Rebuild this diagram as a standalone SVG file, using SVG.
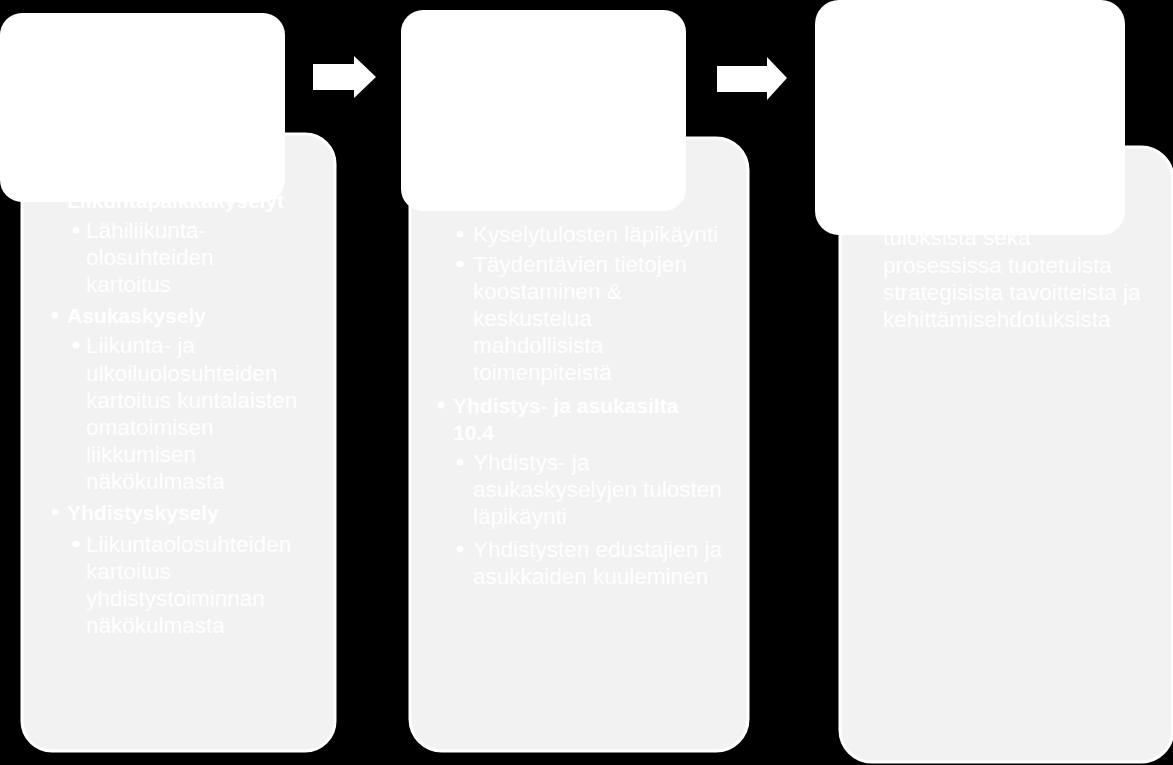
<svg xmlns="http://www.w3.org/2000/svg" width="1173" height="765" viewBox="0 0 1173 765">
<style>
.bg{fill:#000}
.panel{fill:#F2F2F2;stroke:#FFFFFF;stroke-width:3}
.head{fill:#FFFFFF}
.t{font-family:"Liberation Sans",Arial,sans-serif;font-size:22.5px;fill:#FFFFFF}
.b{font-family:"Liberation Sans",Arial,sans-serif;font-size:21px;font-weight:bold;fill:#FFFFFF}
.dot{fill:#FFFFFF}
.arrow{fill:#FFFFFF}
</style>
<rect class="bg" x="0" y="0" width="1173" height="765"/>

<g id="step1">
<rect class="panel" x="22" y="134" width="313" height="617" rx="30" ry="30"/>
<text class="b" x="67" y="208">Liikuntapaikkakyselyt</text>
<circle class="dot" cx="76" cy="230" r="3.5"/>
<text class="t" x="86" y="238">Lähiliikunta-</text>
<text class="t" x="86" y="265">olosuhteiden</text>
<text class="t" x="86" y="292">kartoitus</text>
<circle class="dot" cx="55" cy="315" r="3.5"/>
<text class="b" x="67" y="323">Asukaskysely</text>
<circle class="dot" cx="76" cy="345" r="3.5"/>
<text class="t" x="86" y="353">Liikunta- ja</text>
<text class="t" x="86" y="381">ulkoiluolosuhteiden</text>
<text class="t" x="86" y="408">kartoitus kuntalaisten</text>
<text class="t" x="86" y="435">omatoimisen</text>
<text class="t" x="86" y="462">liikkumisen</text>
<text class="t" x="86" y="489">näkökulmasta</text>
<circle class="dot" cx="55" cy="512" r="3.5"/>
<text class="b" x="67" y="520">Yhdistyskysely</text>
<circle class="dot" cx="76" cy="544" r="3.5"/>
<text class="t" x="86" y="552">Liikuntaolosuhteiden</text>
<text class="t" x="86" y="579">kartoitus</text>
<text class="t" x="86" y="606">yhdistystoiminnan</text>
<text class="t" x="86" y="633">näkökulmasta</text>
<rect class="head" x="0" y="13" width="285" height="189" rx="22" ry="22"/>
</g>

<g id="step2">
<rect class="panel" x="410" y="138" width="338" height="613" rx="32" ry="32"/>
<circle class="dot" cx="460" cy="234" r="3.5"/>
<text class="t" x="473" y="242">Kyselytulosten läpikäynti</text>
<circle class="dot" cx="460" cy="264" r="3.5"/>
<text class="t" x="473" y="272">Täydentävien tietojen</text>
<text class="t" x="473" y="299">koostaminen &amp;</text>
<text class="t" x="473" y="326">keskustelua</text>
<text class="t" x="473" y="353">mahdollisista</text>
<text class="t" x="473" y="380">toimenpiteistä</text>
<circle class="dot" cx="441" cy="405" r="3.5"/>
<text class="b" x="453" y="413">Yhdistys- ja asukasilta</text>
<text class="b" x="453" y="440">10.4</text>
<circle class="dot" cx="460" cy="462" r="3.5"/>
<text class="t" x="473" y="470">Yhdistys- ja</text>
<text class="t" x="473" y="497">asukaskyselyjen tulosten</text>
<text class="t" x="473" y="524">läpikäynti</text>
<circle class="dot" cx="460" cy="549" r="3.5"/>
<text class="t" x="473" y="557">Yhdistysten edustajien ja</text>
<text class="t" x="473" y="584">asukkaiden kuuleminen</text>
<rect class="head" x="401" y="10" width="285" height="201" rx="22" ry="22"/>
</g>

<g id="step3">
<rect class="panel" x="840" y="147" width="333" height="615" rx="32" ry="32"/>
<text class="t" x="883" y="245">tuloksista sekä</text>
<text class="t" x="883" y="273">prosessissa tuotetuista</text>
<text class="t" x="883" y="300">strategisista tavoitteista ja</text>
<text class="t" x="883" y="327">kehittämisehdotuksista</text>
<rect class="head" x="815" y="0" width="310" height="235" rx="24" ry="24"/>
</g>

<g id="connectors">
<polygon class="arrow" points="313,64 354,64 354,56 376,77 354,98 354,90 313,90"/>
<polygon class="arrow" points="717,66 767,66 767,57 787,78 767,100 767,92 717,92"/>
</g>
</svg>
